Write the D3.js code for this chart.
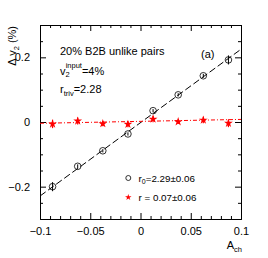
<!DOCTYPE html>
<html><head><meta charset="utf-8">
<script src="https://cdn.jsdelivr.net/npm/d3@7"></script>
<style>body{margin:0;background:#fff}svg{display:block;font-family:"Liberation Sans",Arial,sans-serif}</style>
</head><body>
<svg id="c" width="268" height="258"></svg>
<script>
const achValues = [-0.0875, -0.0625, -0.0375, -0.0125, 0.0125, 0.0375, 0.0625, 0.0875];
const dv2Unlike = [-0.200, -0.137, -0.089, -0.037, 0.035, 0.084, 0.143, 0.192];
const dv2UnlikeErr = [0.014, 0.006, 0.005, 0.005, 0.005, 0.005, 0.006, 0.014];
const dv2Corr = [-0.006, 0.003, -0.005, -0.007, 0.009, 0.001, 0.006, -0.004];
const dv2CorrErr = [0.013, 0.011, 0.008, 0.009, 0.010, 0.007, 0.010, 0.012];
const fitRange = [-0.1, 0.1];
const fitBlack = [-0.229, 0.225];
const fitRed = [-0.004, 0.008];
const xMajor = [-0.1, -0.05, 0, 0.05, 0.1];
const xMajorLabels = ["\u22120.1", "\u22120.05", "0", "0.05", "0.1"];
const yMajor = [-0.2, 0, 0.2];
const yMajorLabels = ["\u22120.2", "0", "0.2"];

const svg = d3.select("#c");
const L = 40, R = 241, T = 25, B = 219;
const x = d3.scaleLinear().domain([-0.1, 0.1]).range([L, R]);
const y = d3.scaleLinear().domain([-0.3, 0.3]).range([B, T]);
const fs = 11;

const xMinor = d3.range(-10, 11).map(i => i / 100).filter(v => !xMajor.some(m => Math.abs(m - v) < 1e-9));
const yMinor = d3.range(-6, 7).map(i => i * 0.05).filter(v => !yMajor.some(m => Math.abs(m - v) < 1e-9) && v > -0.3 + 1e-9 && v < 0.3 - 1e-9);

function styleAxis(g) {
  g.select(".domain").attr("stroke", "#000").attr("stroke-width", 1);
  g.selectAll(".tick line").attr("stroke", "#000").attr("stroke-width", 1);
}
svg.append("g").attr("transform", `translate(0,${B})`)
  .call(d3.axisBottom(x).tickValues(xMajor).tickSizeInner(-6).tickSizeOuter(0).tickPadding(8)
    .tickFormat((d, i) => xMajorLabels[i]))
  .call(styleAxis)
  .call(g => g.selectAll("text").attr("font-size", fs).attr("fill", "#000").attr("font-family", "Liberation Sans, Arial, sans-serif"));
svg.append("g").attr("transform", `translate(0,${B})`)
  .call(d3.axisBottom(x).tickValues(xMinor).tickSizeInner(-3).tickSizeOuter(0).tickFormat(""))
  .call(styleAxis);
svg.append("g").attr("transform", `translate(0,${T})`)
  .call(d3.axisTop(x).tickValues(xMajor).tickSizeInner(-6).tickSizeOuter(0).tickFormat(""))
  .call(styleAxis);
svg.append("g").attr("transform", `translate(0,${T})`)
  .call(d3.axisTop(x).tickValues(xMinor).tickSizeInner(-3).tickSizeOuter(0).tickFormat(""))
  .call(styleAxis);
svg.append("g").attr("transform", `translate(${L},0)`)
  .call(d3.axisLeft(y).tickValues(yMajor).tickSizeInner(-6).tickSizeOuter(0).tickPadding(10)
    .tickFormat((d, i) => yMajorLabels[i]))
  .call(styleAxis)
  .call(g => g.selectAll("text").attr("font-size", fs).attr("fill", "#000").attr("font-family", "Liberation Sans, Arial, sans-serif"));
svg.append("g").attr("transform", `translate(${L},0)`)
  .call(d3.axisLeft(y).tickValues(yMinor).tickSizeInner(-3).tickSizeOuter(0).tickFormat(""))
  .call(styleAxis);
svg.append("g").attr("transform", `translate(${R},0)`)
  .call(d3.axisRight(y).tickValues(yMajor).tickSizeInner(-6).tickSizeOuter(0).tickFormat(""))
  .call(styleAxis);
svg.append("g").attr("transform", `translate(${R},0)`)
  .call(d3.axisRight(y).tickValues(yMinor).tickSizeInner(-3).tickSizeOuter(0).tickFormat(""))
  .call(styleAxis);

svg.append("clipPath").attr("id", "clip").append("rect").attr("x", L).attr("y", T).attr("width", R - L).attr("height", B - T);
const plot = svg.append("g").attr("clip-path", "url(#clip)");

const line = d3.line().x(d => x(d[0])).y(d => y(d[1]));
plot.append("path").datum(fitRange.map((v, i) => [v, fitBlack[i]]))
  .attr("d", line).attr("fill", "none").attr("stroke", "#000").attr("stroke-width", 1)
  .attr("stroke-dasharray", "7,3");
plot.append("path").datum(fitRange.map((v, i) => [v, fitRed[i]]))
  .attr("d", line).attr("fill", "none").attr("stroke", "#ff0000").attr("stroke-width", 1)
  .attr("stroke-dasharray", "4,2,1,2");

const circ = achValues.map((a, i) => ({a, v: dv2Unlike[i], e: dv2UnlikeErr[i]}));
plot.selectAll(".eb1").data(circ).enter().append("line")
  .attr("x1", d => x(d.a)).attr("x2", d => x(d.a))
  .attr("y1", d => y(d.v - d.e)).attr("y2", d => y(d.v + d.e))
  .attr("stroke", "#000").attr("stroke-width", 1);
plot.selectAll(".c1").data(circ).enter().append("circle")
  .attr("cx", d => x(d.a)).attr("cy", d => y(d.v)).attr("r", 3.3)
  .attr("fill", "none").attr("stroke", "#000").attr("stroke-width", 0.8);

const star = d3.symbol().type(d3.symbolStar).size(24);
const st = achValues.map((a, i) => ({a, v: dv2Corr[i], e: dv2CorrErr[i]}));
plot.selectAll(".eb2").data(st).enter().append("line")
  .attr("x1", d => x(d.a)).attr("x2", d => x(d.a))
  .attr("y1", d => y(d.v - d.e)).attr("y2", d => y(d.v + d.e))
  .attr("stroke", "#ff0000").attr("stroke-width", 1.2);
plot.selectAll(".s1").data(st).enter().append("path")
  .attr("d", star).attr("transform", d => `translate(${x(d.a)},${y(d.v)})`)
  .attr("fill", "#ff0000");

const t = (xx, yy, size) => svg.append("text").attr("x", xx).attr("y", yy).attr("font-size", size).attr("fill", "#000");
t(60, 55, fs).text("20% B2B unlike pairs");
const v2 = t(60, 74.5, fs);
v2.append("tspan").text("v");
v2.append("tspan").attr("font-size", 7.5).attr("dy", 2.5).text("2");
v2.append("tspan").attr("font-size", 7.5).attr("dx", -4).attr("dy", -9).text("input");
v2.append("tspan").attr("dy", 6.5).text("=4%");
const rt = t(60, 93, fs);
rt.append("tspan").text("r");
rt.append("tspan").attr("font-size", 7.5).attr("dy", 3).text("triv");
rt.append("tspan").attr("dy", -3).text("=2.28");
t(201, 58, fs).text("(a)");

svg.append("circle").attr("cx", 128.3).attr("cy", 178).attr("r", 2.5).attr("fill", "none").attr("stroke", "#000").attr("stroke-width", 0.8);
svg.append("path").attr("d", d3.symbol().type(d3.symbolStar).size(13)()).attr("transform", "translate(128.3,197.3)").attr("fill", "#ff0000");
const l1 = t(138.5, 181.5, 9.8);
l1.append("tspan").text("r");
l1.append("tspan").attr("font-size", 7).attr("dy", 2.5).text("0");
l1.append("tspan").attr("dy", -2.5).text("=2.29\u00b10.06");
t(138.5, 200.7, 9.8).text("r = 0.07\u00b10.06");

const xt = t(242, 249, fs).attr("text-anchor", "end");
xt.append("tspan").text("A");
xt.append("tspan").attr("font-size", 7.5).attr("dy", 3).text("ch");
const yt = svg.append("text").attr("transform", "translate(15.5,26) rotate(-90)")
  .attr("text-anchor", "end").attr("font-size", fs).attr("fill", "#000");
yt.append("tspan").text("\u0394 v");
yt.append("tspan").attr("font-size", 7.5).attr("dy", 3).text("2");
yt.append("tspan").attr("dy", -3).text(" (%)");
</script>
</body></html>
